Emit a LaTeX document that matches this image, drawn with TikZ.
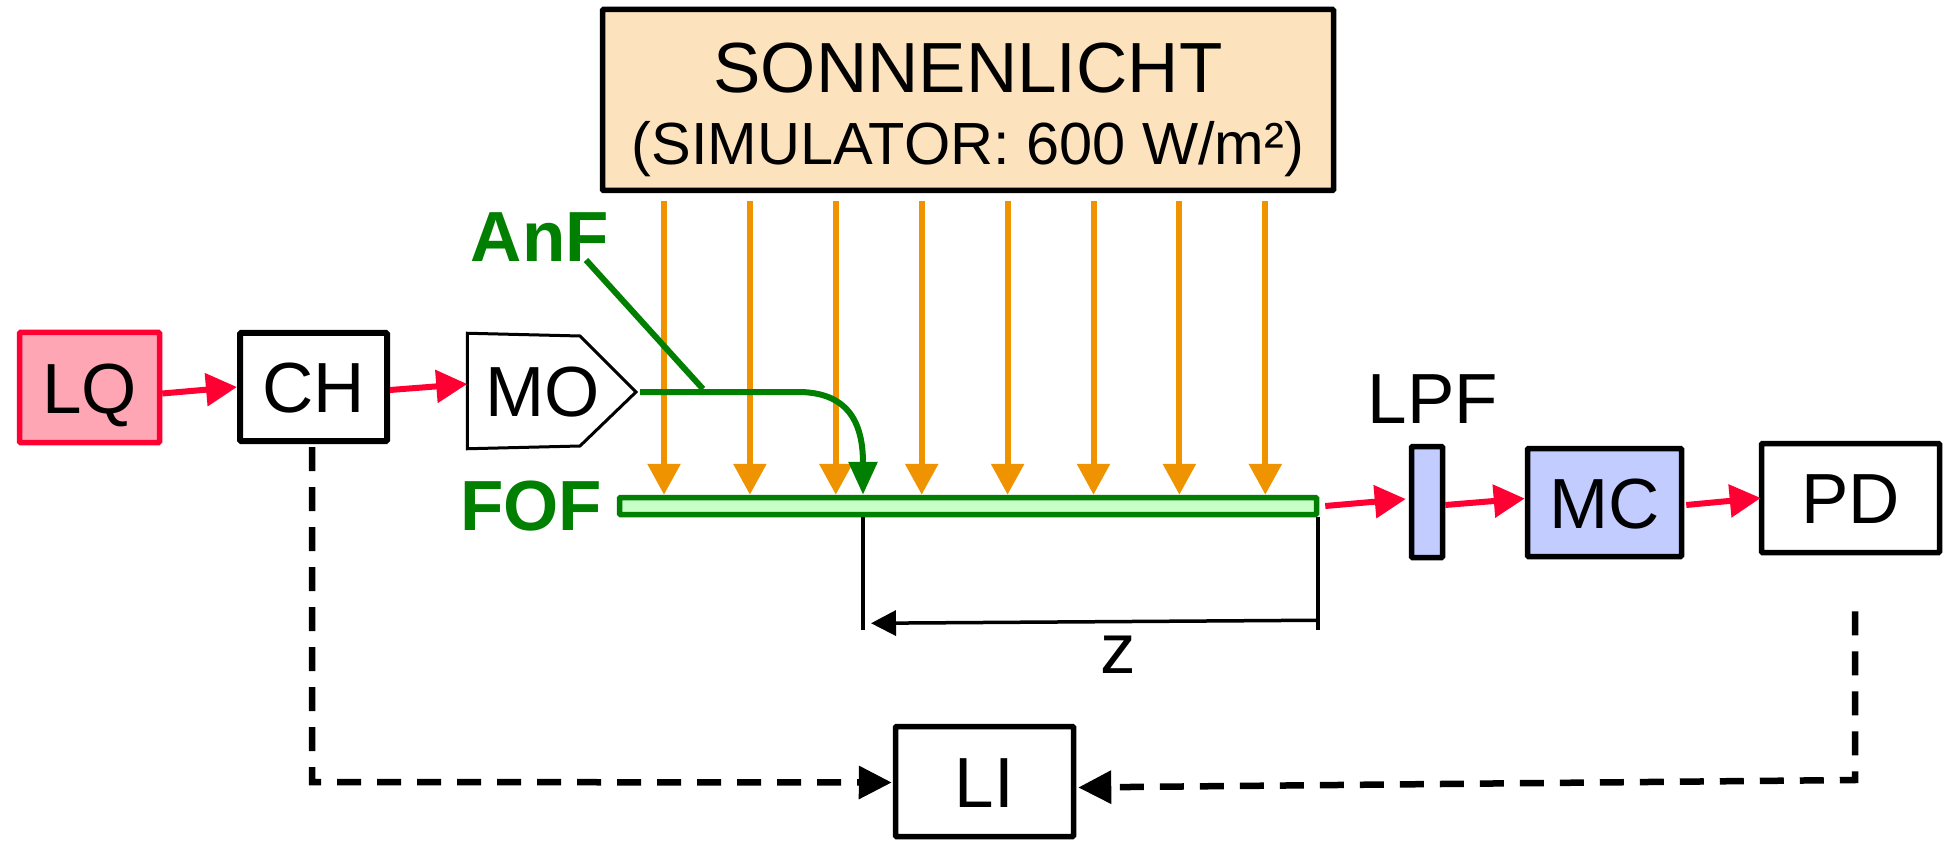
\documentclass[tikz,border=0pt]{standalone}
\usepackage{fontspec}
\setmainfont{Liberation Sans}
\usetikzlibrary{arrows.meta,calc}
\definecolor{redc}{HTML}{FF0033}
\definecolor{pinkc}{HTML}{FFA6B5}
\definecolor{orangec}{HTML}{EF9300}
\definecolor{greenc}{HTML}{007F00}
\definecolor{fofc}{HTML}{C8FFC8}
\definecolor{bluec}{HTML}{C2CCFF}
\definecolor{sunc}{HTML}{FCE3BD}
\newcommand\bigf{\fontsize{71}{82}\selectfont}
\tikzset{
  box/.style={draw, line width=5.5pt, inner sep=0pt, font=\bigf, text height=51pt, text depth=0pt, rounded corners=1pt},
  redarrow/.style={draw=redc, line width=6pt, -{Triangle[length=31pt,width=32pt]}},
  ray/.style={draw=orangec, line width=6pt, -{Triangle[length=31pt,width=32pt]}},
  fiber/.style={draw=greenc, line width=6pt},
  dashline/.style={line width=6.5pt, dash pattern=on 24pt off 16pt, -{Triangle[length=33pt,width=32pt]}},
  dimline/.style={line width=3.5pt},
  lbl/.style={font=\bigf, inner sep=0pt, anchor=base},
  glbl/.style={font=\bigf\bfseries, text=greenc, inner sep=0pt, anchor=base}
}
\begin{document}
\begin{tikzpicture}[x=1pt,y=-1pt]
\useasboundingbox (0,0) rectangle (1955,842);

% sun simulator
\node[box, fill=sunc, minimum width=731, minimum height=181] (sun) at (968,100) {};
\node[lbl, font=\fontsize{71}{80}\selectfont] (sun1) at (968,93) {SONNENLICHT};
\node[lbl, font=\fontsize{59.5}{70}\selectfont] (sun2) at (968,165) {(SIMULATOR: 600 W/m²)};

% fiber
\node[draw=greenc, fill=fofc, line width=5.5pt, inner sep=0pt, minimum width=697, minimum height=17, rounded corners=1pt] (FOF) at (968,506) {};
\node[glbl] (FOFt) at (531,530) {FOF};

% rays
\foreach \i in {0,...,7} {
  \draw[ray] ($(sun.south)+(-304+85.9*\i,8)$) -- ($(FOF.north)+(-304+85.9*\i,0)$);
}

% source chain
\node[box, draw=redc, fill=pinkc, minimum width=140, minimum height=110] (LQ) at (89.5,387.5) {LQ};
\node[box, line width=6pt, minimum width=147, minimum height=108] (CH) at (313.5,387) {CH};
\node[box, draw=none, minimum width=146, minimum height=110] (MO) at (543,391) {MO};
\coordinate (MOtip) at (636,392);
\draw[line width=3pt, line join=miter] (MO.north west) -- (580,336) -- (MOtip) -- (580,446) -- (MO.south west) -- cycle;

\draw[redarrow] ($(LQ.east)+(0,6)$) -- (CH.west);
\draw[redarrow] ($(CH.east)+(0,3)$) -- ($(MO.west)+(0,-7)$);

% AnF
\node[glbl] (AnF) at (540,262) {AnF};
\draw[fiber] (586,260) -- (703,389);
\draw[fiber, -{Triangle[length=33pt,width=28pt]}] ($(MOtip)+(4,0)$) -- (800,392) .. controls (850,393) and (863,425) .. ($(FOF.north)+(-105,0)$);

% dimension z
\coordinate (zL) at ($(FOF.south)+(-105,0)$);
\coordinate (zR) at ($(FOF.south)+(350,0)$);
\draw[dimline] (zL) -- ++(0,113);
\draw[dimline] (zR) -- ++(0,113);
\draw[dimline, -{Triangle[length=25pt,width=25pt]}] ($(zR)+(0,103)$) -- ($(zL)+(8,106)$);
\node[lbl] (z) at (1118,673) {z};

% output chain
\node[box, fill=bluec, minimum width=31, minimum height=111] (LPF) at (1427,502) {};
\node[lbl] (LPFt) at (1433,423) {LPF};
\node[box, fill=bluec, minimum width=154, minimum height=108] (MC) at (1604.5,502.5) {MC};
\node[box, minimum width=178, minimum height=109] (PD) at (1850.5,498) {PD};
\node[box, minimum width=178, minimum height=110] (LI) at (984.5,781.5) {LI};

\draw[redarrow] ($(FOF.east)+(6,0)$) -- ($(LPF.west)+(-3,-3)$);
\draw[redarrow] ($(LPF.east)+(0,3)$) -- ($(MC.west)+(0,-4)$);
\draw[redarrow] ($(MC.east)+(2,2.5)$) -- ($(PD.west)+(2,0)$);

% dashed feedback
\draw[dashline] ($(CH.south)+(-1.5,3)$) -- (312,782) -- ($(LI.west)+(-1,1)$);
\draw[dashline] ($(PD.south)+(4.5,56)$) -- (1855,780) -- ($(LI.east)+(2,6)$);
\end{tikzpicture}
\end{document}
